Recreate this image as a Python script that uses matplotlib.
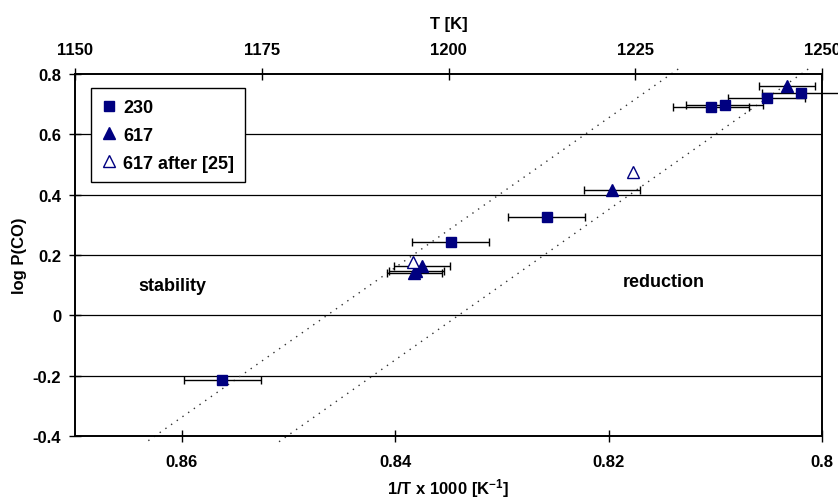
import matplotlib
matplotlib.use("Agg")
import matplotlib.pyplot as plt

plt.rcParams['font.family'] = ['Liberation Sans', 'DejaVu Sans']
plt.rcParams['font.weight'] = 'bold'
plt.rcParams['mathtext.fontset'] = 'custom'
plt.rcParams['mathtext.rm'] = 'Liberation Sans:bold'
plt.rcParams['mathtext.bf'] = 'Liberation Sans:bold'
plt.rcParams['mathtext.default'] = 'bf'

# ---- data ----
sq_x = [0.8562, 0.8348, 0.8258, 0.8104, 0.8091, 0.8052, 0.8020]
sq_y = [-0.214, 0.243, 0.325, 0.691, 0.697, 0.720, 0.737]
sq_xerr = [0.0036, 0.0036, 0.0036, 0.0036, 0.0036, 0.0036, 0.0036]

tri_x = [0.8375, 0.8380, 0.8382, 0.8197, 0.8033]
tri_y = [0.1625, 0.148, 0.139, 0.4165, 0.761]
tri_xerr = [0.0026, 0.0026, 0.0026, 0.0026, 0.0026]

open_x = [0.8383, 0.8177]
open_y = [0.176, 0.474]

line1_x = [0.86313, 0.81337]
line1_y = [-0.4155, 0.819]
line2_x = [0.85088, 0.80119]
line2_y = [-0.419, 0.819]

x_ticks = [0.86, 0.84, 0.82, 0.80]
x_ticklabels = ['0.86', '0.84', '0.82', '0.8']
y_ticks = [-0.4, -0.2, 0, 0.2, 0.4, 0.6, 0.8]
y_ticklabels = ['-0.4', '-0.2', '0', '0.2', '0.4', '0.6', '0.8']
t_ticks = [1150, 1175, 1200, 1225, 1250]

navy = '#000080'

fig = plt.figure(figsize=(8.38, 5.02), dpi=100)
ax = fig.add_axes([75/838, 1-437/502, (822-75)/838, (437-75)/502])

ax.set_xlim(0.87, 0.80)
ax.set_ylim(-0.4, 0.8)

for y in y_ticks[1:-1]:
    ax.axhline(y, color='black', lw=0.9, zorder=0.5)

ax.plot(line1_x, line1_y, color='#333333', lw=1.0, ls=(0, (1, 4)), clip_on=False, zorder=2)
ax.plot(line2_x, line2_y, color='#333333', lw=1.0, ls=(0, (1, 4)), clip_on=False, zorder=2)

eb1 = ax.errorbar(sq_x, sq_y, xerr=sq_xerr, fmt='none', ecolor='black', elinewidth=1,
                  capsize=3, capthick=1, zorder=3)
eb2 = ax.errorbar(tri_x, tri_y, xerr=tri_xerr, fmt='none', ecolor='black', elinewidth=1,
                  capsize=3, capthick=1, zorder=3)
for eb in (eb1, eb2):
    for c in eb.get_children():
        c.set_clip_on(False)

ax.plot(sq_x, sq_y, ls='none', marker='s', ms=7.5, color=navy, label='230', zorder=4)
ax.plot(tri_x, tri_y, ls='none', marker='^', ms=8, color=navy, label='617', zorder=4)
ax.plot(open_x, open_y, ls='none', marker='^', ms=8, mfc='white', mec=navy, mew=1,
        label='617 after [25]', zorder=4)

ax.text(0.8609, 0.10, 'stability', fontsize=13, fontweight='bold', ha='center', va='center')
ax.text(0.81485, 0.112, 'reduction', fontsize=13, fontweight='bold', ha='center', va='center')

ax.set_xticks(x_ticks)
ax.set_xticklabels(x_ticklabels)
ax.set_yticks(y_ticks)
ax.set_yticklabels(y_ticklabels)
ax.tick_params(axis='x', direction='inout', length=8, width=1, labelsize=12, pad=9)
ax.tick_params(axis='y', direction='inout', length=8, width=1, labelsize=12, pad=6)
for s in ax.spines.values():
    s.set_linewidth(1.2)
    s.set_color('black')

ax.set_xlabel('1/T x 1000 [K$^{-1}$]', fontsize=12, fontweight='bold', labelpad=5)
ax.set_ylabel('log P(CO)', fontsize=12, fontweight='bold', labelpad=4)

ax2 = ax.twiny()
ax2.set_xlim(1150, 1250)
ax2.set_xticks(t_ticks)
ax2.set_xticklabels([str(t) for t in t_ticks])
ax2.tick_params(axis='x', direction='inout', length=8, width=1, labelsize=12, pad=8)
ax2.set_xlabel('T [K]', fontsize=12, fontweight='bold', labelpad=10)
for s in ax2.spines.values():
    s.set_linewidth(1.2)

leg = ax.legend(loc='upper left', bbox_to_anchor=(0.0214, 0.961), borderaxespad=0,
                frameon=True, fancybox=False, edgecolor='black', framealpha=1,
                handlelength=0.8, handletextpad=0.4, labelspacing=0.6,
                borderpad=0.6, prop={'weight': 'bold', 'size': 13})
leg.get_frame().set_linewidth(1)
leg.set_zorder(10)

fig.savefig('out.png', dpi=100)
